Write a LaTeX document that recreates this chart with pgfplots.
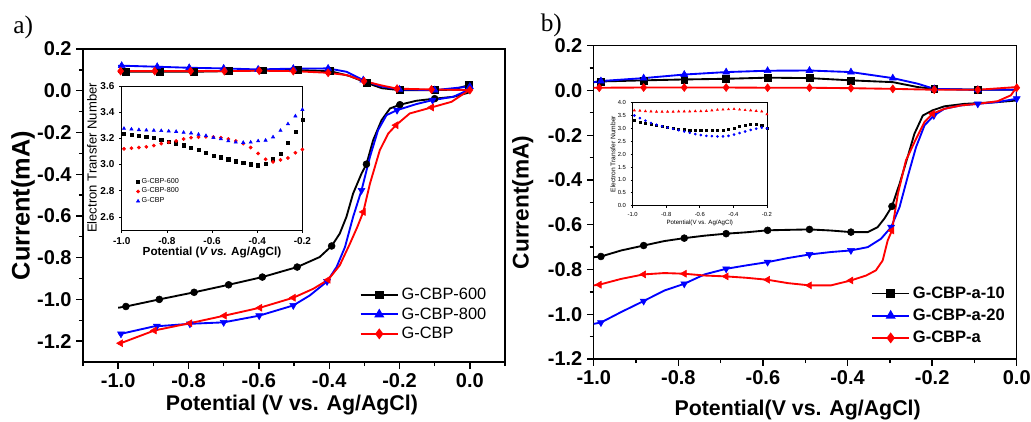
\documentclass[border=0pt]{standalone}
\usepackage{fontspec}
\setmainfont{Liberation Sans}
\newfontfamily\serifff{Liberation Serif}
\usepackage{pgfplots}
\pgfplotsset{compat=1.18}

\newcommand\fs[1]{\fontsize{#1}{#1}\selectfont}

\pgfplotsset{
  mainax/.style={
    scale only axis,
    axis line style={line width=1.1pt},
    tick align=outside, tick pos=left,
    major tick length=5pt, minor tick length=3pt,
    major tick style={line width=1pt, black},
    minor tick style={line width=1pt, black},
    /pgf/number format/assume math mode=true,
    ticklabel style={font=\bfseries\fs{15}},
    xticklabel style={/pgf/number format/fixed, /pgf/number format/fixed zerofill, /pgf/number format/precision=1},
    yticklabel style={/pgf/number format/fixed, /pgf/number format/fixed zerofill, /pgf/number format/precision=1},
    legend cell align=left,
    legend style={draw=none, fill=none, inner sep=0pt, row sep=0.5pt, nodes={inner sep=2pt}},
    legend image code/.code={\draw[mark repeat=2,mark phase=2,#1] plot coordinates {(0pt,0pt) (14pt,0pt) (28pt,0pt)};},
  },
  inax/.style={
    scale only axis,
    axis background/.style={fill=white},
    axis line style={line width=0.6pt},
    tick align=outside, tick pos=left,
    major tick length=2pt,
    major tick style={line width=0.5pt, black},
    /pgf/number format/assume math mode=true,
    xticklabel style={/pgf/number format/fixed, /pgf/number format/fixed zerofill, /pgf/number format/precision=1},
    yticklabel style={/pgf/number format/fixed, /pgf/number format/fixed zerofill, /pgf/number format/precision=1},
  },
  ln/.style={line width=1.4pt, mark=none},
  mk/.style={only marks, mark size=2.6pt},
}

\begin{document}
\begin{tikzpicture}
\path[use as bounding box] (0,0) rectangle (773.25pt,315.75pt);

\node[font=\serifff\fs{19}] at (17.5pt,295pt) {a)};
\node[font=\serifff\fs{19}] at (413.5pt,297pt) {b)};

% ---------------- panel a ----------------
\begin{axis}[mainax,
  at={(62.25pt,44.25pt)}, anchor=south west,
  width=316.5pt, height=234.75pt,
  xmin=-1.1, xmax=0.1, ymin=-1.3, ymax=0.2,
  xtick={-1,-0.8,-0.6,-0.4,-0.2,0},
  minor xtick={-1.1,-0.9,-0.7,-0.5,-0.3,-0.1,0.1},
  ytick={-1.2,-1,-0.8,-0.6,-0.4,-0.2,0,0.2},
  minor ytick={-1.1,-0.9,-0.7,-0.5,-0.3,-0.1,0.1},
  xlabel={Potential (V vs. Ag/AgCl)},
  ylabel={Current(mA)},
  xlabel style={font=\bfseries\fs{16}, at={(axis description cs:0.495,-0.137)}, anchor=center},
  ylabel style={font=\bfseries\fs{19}, at={(axis description cs:-0.142,0.5)}, anchor=center},
  legend style={at={(axis description cs:0.655,0.245)}, anchor=north west, font=\fs{12.3}},
]
\addlegendimage{black, line width=1.4pt, mark=square*, mark size=2.6pt}
\addlegendentry{G-CBP-600}
\addlegendimage{blue, line width=1.4pt, mark=triangle*, mark size=3pt}
\addlegendentry{G-CBP-800}
\addlegendimage{red, line width=1.4pt, mark=diamond*, mark size=3pt}
\addlegendentry{G-CBP}

\addplot[black, ln, forget plot] coordinates {
(-1.0,-1.04)(-0.978,-1.034)(-0.883,-1.0)(-0.784,-0.966)(-0.686,-0.93)(-0.59,-0.893)
(-0.491,-0.845)(-0.427,-0.797)(-0.393,-0.744)(-0.37,-0.685)(-0.351,-0.605)(-0.332,-0.493)
(-0.308,-0.397)(-0.294,-0.352)(-0.275,-0.237)(-0.251,-0.141)(-0.227,-0.085)(-0.199,-0.067)
(-0.152,-0.048)(-0.1,-0.038)(-0.047,-0.029)(-0.005,-0.01)(0.0,0.0)(-0.002,0.027)
(-0.05,0.005)(-0.1,0.003)(-0.2,0.003)(-0.25,0.012)(-0.294,0.038)(-0.341,0.07)(-0.398,0.094)
(-0.49,0.099)(-0.59,0.098)(-0.686,0.094)(-0.784,0.091)(-0.883,0.091)(-0.978,0.091)(-1.0,0.09)};
\addplot[black, mk, mark=*, forget plot] coordinates {
(-0.978,-1.034)(-0.883,-1.0)(-0.784,-0.966)(-0.686,-0.93)(-0.59,-0.893)(-0.491,-0.845)
(-0.393,-0.744)(-0.294,-0.352)(-0.199,-0.067)(-0.1,-0.038)};
\addplot[black, mk, mark=square*, forget plot] coordinates {
(-0.002,0.027)(-0.1,0.003)(-0.2,0.003)(-0.294,0.038)(-0.398,0.094)(-0.49,0.099)
(-0.59,0.098)(-0.686,0.094)(-0.784,0.091)(-0.883,0.091)(-0.978,0.091)};

\addplot[blue, ln, forget plot] coordinates {
(-1.0,-1.162)(-0.992,-1.165)(-0.9,-1.13)(-0.796,-1.117)(-0.7,-1.11)(-0.599,-1.078)
(-0.502,-1.029)(-0.455,-0.981)(-0.406,-0.914)(-0.379,-0.845)(-0.355,-0.749)(-0.332,-0.605)
(-0.308,-0.477)(-0.284,-0.317)(-0.261,-0.189)(-0.237,-0.117)(-0.207,-0.093)(-0.152,-0.064)
(-0.106,-0.045)(-0.047,-0.029)(-0.009,0.0)(0.0,0.02)(-0.1,0.003)(-0.2,0.006)(-0.256,0.022)
(-0.303,0.051)(-0.351,0.091)(-0.403,0.107)(-0.502,0.106)(-0.602,0.102)(-0.7,0.107)
(-0.798,0.11)(-0.889,0.115)(-0.99,0.12)(-1.0,0.12)};
\addplot[blue, mk, mark=triangle*, mark size=3pt, mark options={rotate=180}, forget plot] coordinates {
(-0.992,-1.165)(-0.89,-1.128)(-0.796,-1.117)(-0.7,-1.11)(-0.599,-1.078)(-0.502,-1.029)
(-0.406,-0.914)(-0.308,-0.477)(-0.207,-0.093)(-0.106,-0.045)};
\addplot[blue, mk, mark=triangle*, mark size=3pt, forget plot] coordinates {
(0.0,0.02)(-0.1,0.003)(-0.2,0.006)(-0.303,0.051)(-0.403,0.107)(-0.502,0.106)
(-0.602,0.102)(-0.7,0.107)(-0.798,0.11)(-0.889,0.115)(-0.99,0.12)};

\addplot[red, ln, forget plot] coordinates {
(-1.0,-1.213)(-0.993,-1.21)(-0.897,-1.149)(-0.796,-1.114)(-0.698,-1.078)(-0.597,-1.04)
(-0.502,-0.992)(-0.445,-0.949)(-0.403,-0.906)(-0.37,-0.837)(-0.341,-0.733)(-0.32,-0.653)
(-0.303,-0.581)(-0.284,-0.445)(-0.256,-0.285)(-0.232,-0.205)(-0.21,-0.165)(-0.171,-0.109)
(-0.109,-0.08)(-0.052,-0.053)(-0.009,-0.005)(0.0,0.003)(-0.109,0.006)(-0.207,0.01)
(-0.25,0.025)(-0.301,0.046)(-0.35,0.075)(-0.403,0.086)(-0.502,0.094)(-0.599,0.096)
(-0.698,0.094)(-0.794,0.094)(-0.896,0.094)(-0.993,0.094)(-1.0,0.094)};
\addplot[red, mk, mark=triangle*, mark size=3pt, mark options={rotate=90}, forget plot] coordinates {
(-0.993,-1.21)(-0.897,-1.149)(-0.796,-1.114)(-0.698,-1.078)(-0.597,-1.04)(-0.502,-0.992)
(-0.403,-0.906)(-0.303,-0.581)(-0.21,-0.165)(-0.109,-0.08)};
\addplot[red, mk, mark=diamond*, mark size=3pt, forget plot] coordinates {
(0.0,0.003)(-0.109,0.006)(-0.207,0.01)(-0.301,0.046)(-0.403,0.086)(-0.502,0.094)
(-0.599,0.096)(-0.698,0.094)(-0.794,0.094)(-0.896,0.094)(-0.993,0.094)};
\end{axis}

% inset a
\begin{axis}[inax,
  at={(91.3pt,143.25pt)}, anchor=south west,
  width=135.5pt, height=108pt,
  xmin=-1.0, xmax=-0.2, ymin=2.5, ymax=3.6,
  xtick={-1,-0.8,-0.6,-0.4,-0.2},
  ytick={2.6,2.8,3,3.2,3.4,3.6},
  ticklabel style={font=\bfseries\fs{7.5}},
  xlabel={Potential (\textit{V vs.} Ag/AgCl)},
  ylabel={Electron Transfer Number},
  xlabel style={font=\bfseries\fs{8.8}, yshift=5pt},
  ylabel style={font=\fs{9.8}, yshift=-4pt},
  legend cell align=left,
  legend style={at={(axis description cs:0.08,0.375)}, anchor=north west, draw=none, fill=none,
    font=\fs{5.4}, inner sep=0pt, row sep=-1pt, nodes={inner sep=1.5pt}},
  legend image code/.code={\draw[#1] plot coordinates {(3pt,0pt)};},
]
\addplot[black, only marks, mark=square*, mark size=1.2pt] coordinates {
(-0.99,3.235)(-0.957,3.23)(-0.924,3.222)(-0.891,3.214)(-0.858,3.203)(-0.825,3.19)
(-0.792,3.176)(-0.759,3.162)(-0.726,3.148)(-0.693,3.13)(-0.66,3.11)(-0.627,3.09)
(-0.594,3.07)(-0.561,3.055)(-0.528,3.04)(-0.495,3.025)(-0.462,3.013)(-0.429,3.002)
(-0.396,2.995)(-0.363,3.005)(-0.33,3.04)(-0.297,3.085)(-0.264,3.165)(-0.231,3.25)(-0.2,3.34)};
\addlegendentry{G-CBP-600}
\addplot[red, only marks, mark=*, mark size=1.2pt] coordinates {
(-0.99,3.12)(-0.957,3.125)(-0.924,3.13)(-0.891,3.135)(-0.858,3.145)(-0.825,3.16)
(-0.792,3.17)(-0.759,3.18)(-0.726,3.195)(-0.693,3.205)(-0.66,3.21)(-0.627,3.212)
(-0.594,3.21)(-0.561,3.205)(-0.528,3.195)(-0.495,3.18)(-0.462,3.16)(-0.429,3.13)
(-0.396,3.085)(-0.363,3.04)(-0.33,3.02)(-0.297,3.035)(-0.264,3.05)(-0.231,3.09)(-0.2,3.115)};
\addlegendentry{G-CBP-800}
\addplot[blue, only marks, mark=triangle*, mark size=1.4pt] coordinates {
(-0.99,3.275)(-0.957,3.27)(-0.924,3.265)(-0.891,3.262)(-0.858,3.26)(-0.825,3.258)
(-0.792,3.255)(-0.759,3.252)(-0.726,3.245)(-0.693,3.24)(-0.66,3.23)(-0.627,3.22)
(-0.594,3.205)(-0.561,3.195)(-0.528,3.18)(-0.495,3.17)(-0.462,3.168)(-0.429,3.17)
(-0.396,3.18)(-0.363,3.185)(-0.33,3.21)(-0.297,3.26)(-0.264,3.31)(-0.231,3.37)(-0.2,3.42)};
\addlegendentry{G-CBP}
\end{axis}

% ---------------- panel b ----------------
\begin{axis}[mainax,
  at={(445.3pt,46.5pt)}, anchor=south west,
  width=317.25pt, height=235pt,
  xmin=-1.0, xmax=0.0, ymin=-1.2, ymax=0.2,
  xtick={-1,-0.8,-0.6,-0.4,-0.2,0},
  minor xtick={-0.9,-0.7,-0.5,-0.3,-0.1},
  ytick={-1.2,-1,-0.8,-0.6,-0.4,-0.2,0,0.2},
  minor ytick={-1.1,-0.9,-0.7,-0.5,-0.3,-0.1,0.1},
  xlabel={Potential(V vs. Ag/AgCl)},
  ylabel={Current(mA)},
  xlabel style={font=\bfseries\fs{16}, at={(axis description cs:0.482,-0.163)}, anchor=center},
  ylabel style={font=\bfseries\fs{17}, at={(axis description cs:-0.168,0.5)}, anchor=center},
  legend style={at={(axis description cs:0.655,0.24)}, anchor=north west, font=\bfseries\fs{12.4},
    row sep=2.5pt},
]
\addlegendimage{black, line width=1.4pt, mark=square*, mark size=2.6pt}
\addlegendentry{G-CBP-a-10}
\addlegendimage{blue, line width=1.4pt, mark=triangle*, mark size=3pt}
\addlegendentry{G-CBP-a-20}
\addlegendimage{red, line width=1.4pt, mark=diamond*, mark size=3pt}
\addlegendentry{G-CBP-a}

\addplot[black, ln, forget plot] coordinates {
(-1.0,-0.745)(-0.983,-0.742)(-0.935,-0.715)(-0.882,-0.693)(-0.833,-0.673)(-0.786,-0.66)
(-0.738,-0.649)(-0.687,-0.64)(-0.64,-0.634)(-0.589,-0.625)(-0.541,-0.623)(-0.49,-0.621)
(-0.439,-0.626)(-0.392,-0.633)(-0.352,-0.633)(-0.329,-0.611)(-0.313,-0.573)(-0.295,-0.518)
(-0.277,-0.417)(-0.258,-0.298)(-0.242,-0.194)(-0.222,-0.112)(-0.199,-0.089)(-0.171,-0.071)
(-0.124,-0.06)(-0.092,-0.057)(-0.045,-0.052)(0.0,-0.045)(0.0,0.003)(-0.092,0.003)
(-0.195,0.007)(-0.234,0.015)(-0.293,0.037)(-0.392,0.045)(-0.49,0.055)(-0.589,0.057)
(-0.687,0.052)(-0.786,0.049)(-0.882,0.045)(-0.983,0.04)(-1.0,0.037)};
\addplot[black, mk, mark=*, forget plot] coordinates {
(-0.983,-0.742)(-0.882,-0.693)(-0.786,-0.66)(-0.687,-0.64)(-0.589,-0.625)(-0.49,-0.621)
(-0.392,-0.633)(-0.295,-0.518)};
\addplot[black, mk, mark=square*, forget plot] coordinates {
(-0.983,0.04)(-0.882,0.045)(-0.786,0.049)(-0.687,0.052)(-0.589,0.057)(-0.49,0.055)
(-0.392,0.045)(-0.195,0.007)(-0.092,0.003)};

\addplot[blue, ln, forget plot] coordinates {
(-1.0,-1.043)(-0.983,-1.037)(-0.935,-0.99)(-0.882,-0.941)(-0.833,-0.894)(-0.786,-0.864)
(-0.738,-0.822)(-0.687,-0.797)(-0.64,-0.782)(-0.589,-0.767)(-0.541,-0.749)(-0.49,-0.733)
(-0.439,-0.722)(-0.392,-0.715)(-0.352,-0.7)(-0.321,-0.663)(-0.297,-0.611)(-0.277,-0.521)
(-0.258,-0.387)(-0.238,-0.253)(-0.218,-0.156)(-0.196,-0.112)(-0.171,-0.082)(-0.132,-0.067)
(-0.092,-0.06)(-0.045,-0.052)(0.0,-0.037)(0.0,0.003)(-0.092,0.003)(-0.195,0.007)
(-0.234,0.03)(-0.293,0.055)(-0.392,0.082)(-0.49,0.089)(-0.589,0.088)(-0.687,0.082)
(-0.786,0.071)(-0.882,0.055)(-0.983,0.042)(-1.0,0.037)};
\addplot[blue, mk, mark=triangle*, mark size=3pt, mark options={rotate=180}, forget plot] coordinates {
(-0.983,-1.037)(-0.882,-0.941)(-0.786,-0.864)(-0.687,-0.797)(-0.589,-0.767)(-0.49,-0.733)
(-0.392,-0.715)(-0.297,-0.611)(-0.196,-0.112)(-0.092,-0.06)(0.0,-0.037)};
\addplot[blue, mk, mark=triangle*, mark size=3pt, forget plot] coordinates {
(-0.983,0.042)(-0.882,0.055)(-0.786,0.071)(-0.687,0.082)(-0.589,0.088)(-0.49,0.089)
(-0.392,0.082)(-0.293,0.055)(-0.195,0.007)(-0.092,0.003)};

\addplot[red, ln, forget plot] coordinates {
(-1.0,-0.871)(-0.987,-0.868)(-0.935,-0.842)(-0.882,-0.822)(-0.833,-0.816)(-0.786,-0.819)
(-0.738,-0.827)(-0.687,-0.831)(-0.64,-0.837)(-0.589,-0.846)(-0.541,-0.861)(-0.49,-0.871)
(-0.439,-0.871)(-0.392,-0.849)(-0.356,-0.827)(-0.333,-0.804)(-0.317,-0.76)(-0.305,-0.67)
(-0.295,-0.626)(-0.281,-0.462)(-0.262,-0.313)(-0.238,-0.216)(-0.218,-0.141)(-0.199,-0.104)
(-0.171,-0.082)(-0.132,-0.067)(-0.092,-0.06)(-0.045,-0.048)(-0.014,-0.022)(0.0,0.015)
(-0.092,0.003)(-0.195,0.003)(-0.293,0.007)(-0.392,0.01)(-0.49,0.012)(-0.589,0.012)
(-0.687,0.013)(-0.786,0.013)(-0.882,0.013)(-0.987,0.012)(-1.0,0.012)};
\addplot[red, mk, mark=triangle*, mark size=3pt, mark options={rotate=90}, forget plot] coordinates {
(-0.987,-0.868)(-0.882,-0.822)(-0.786,-0.819)(-0.687,-0.831)(-0.589,-0.846)(-0.49,-0.871)
(-0.392,-0.849)(-0.295,-0.626)(-0.199,-0.104)};
\addplot[red, mk, mark=diamond*, mark size=3pt, forget plot] coordinates {
(0.0,0.012)(-0.092,0.003)(-0.195,0.003)(-0.293,0.007)(-0.392,0.01)(-0.49,0.012)
(-0.589,0.012)(-0.687,0.013)(-0.786,0.013)(-0.882,0.013)(-0.987,0.012)};
\end{axis}

% inset b
\begin{axis}[inax,
  at={(474.5pt,161.5pt)}, anchor=south west,
  width=100.7pt, height=77.25pt,
  xmin=-1.0, xmax=-0.2, ymin=0, ymax=4,
  xtick={-1,-0.8,-0.6,-0.4,-0.2},
  ytick={0,0.5,1,1.5,2,2.5,3,3.5,4},
  major tick length=1.5pt,
  ticklabel style={font=\fs{4.4}},
  xlabel={Potential(V vs. Ag/AgCl)},
  ylabel={Electron Transfer Number},
  xlabel style={font=\fs{4.6}, yshift=4pt},
  ylabel style={font=\fs{5}, yshift=-5pt},
]
\addplot[red, only marks, mark=triangle*, mark size=0.9pt] coordinates {
(-0.99,3.70)(-0.957,3.69)(-0.924,3.67)(-0.891,3.66)(-0.858,3.65)(-0.825,3.65)(-0.792,3.65)
(-0.759,3.65)(-0.726,3.66)(-0.693,3.66)(-0.66,3.66)(-0.627,3.67)(-0.594,3.67)(-0.561,3.68)
(-0.528,3.70)(-0.495,3.72)(-0.462,3.73)(-0.429,3.74)(-0.396,3.75)(-0.363,3.73)(-0.33,3.71)
(-0.297,3.70)(-0.264,3.68)(-0.231,3.66)(-0.2,3.55)};
\addplot[black, only marks, mark=square*, mark size=0.8pt] coordinates {
(-0.99,3.30)(-0.957,3.25)(-0.924,3.20)(-0.891,3.15)(-0.858,3.11)(-0.825,3.07)(-0.792,3.03)
(-0.759,3.00)(-0.726,2.98)(-0.693,2.96)(-0.66,2.94)(-0.627,2.93)(-0.594,2.92)(-0.561,2.92)
(-0.528,2.92)(-0.495,2.92)(-0.462,2.93)(-0.429,2.96)(-0.396,3.02)(-0.363,3.08)(-0.33,3.12)
(-0.297,3.15)(-0.264,3.15)(-0.231,3.12)(-0.2,3.0)};
\addplot[blue, only marks, mark=*, mark size=0.8pt] coordinates {
(-0.99,3.50)(-0.957,3.40)(-0.924,3.30)(-0.891,3.21)(-0.858,3.14)(-0.825,3.08)(-0.792,3.03)
(-0.759,2.98)(-0.726,2.93)(-0.693,2.88)(-0.66,2.83)(-0.627,2.78)(-0.594,2.74)(-0.561,2.71)
(-0.528,2.70)(-0.495,2.69)(-0.462,2.69)(-0.429,2.71)(-0.396,2.76)(-0.363,2.82)(-0.33,2.88)
(-0.297,2.94)(-0.264,2.99)(-0.231,3.03)(-0.2,3.0)};
\end{axis}
\end{tikzpicture}
\end{document}
